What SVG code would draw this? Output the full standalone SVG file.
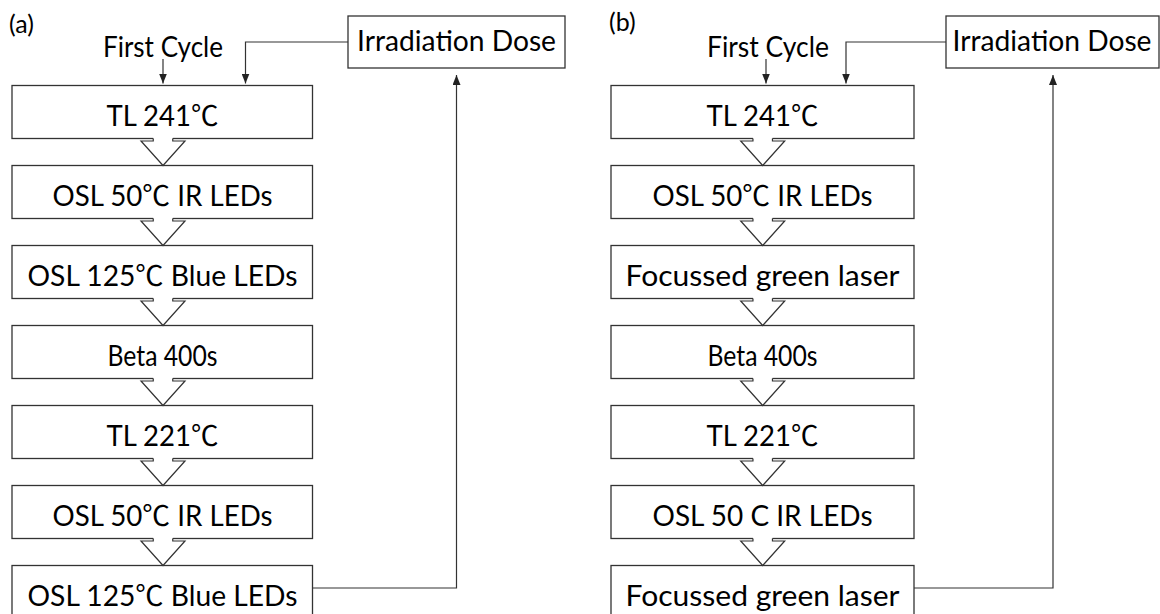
<svg xmlns="http://www.w3.org/2000/svg" xmlns:xlink="http://www.w3.org/1999/xlink" width="1160" height="614" viewBox="0 0 1160 614">
<style>
  .box { fill: #fff; stroke: #333; stroke-width: 1.3; }
  .t { font-family: "Lato", "Noto Sans CJK JP", "DejaVu Sans", sans-serif; font-size: 28px; fill: #000; text-anchor: middle; }
  .lbl { font-family: "Lato", "Noto Sans", "DejaVu Sans", sans-serif; font-size: 25px; fill: #000; }
  .ln { fill: none; stroke: #333; stroke-width: 1.2; }
  .blkf { fill: #fff; stroke: none; }
  .blks { fill: none; stroke: #333; stroke-width: 1.2; stroke-linejoin: miter; }
</style>
<defs>
  <marker id="ah" markerUnits="userSpaceOnUse" markerWidth="10" markerHeight="8" refX="10" refY="4" orient="auto">
    <path d="M0,0 L10,4 L0,8 Z" fill="#222"/>
  </marker>
  <g id="blk">
    <path class="blkf" d="M-9.75,-1.5 V2.5 H-22 L0,27 L22,2.5 H9.75 V-1.5 Z"/>
    <path class="blks" d="M-9.75,0 V2.5 H-22 L0,27 L22,2.5 H9.75 V0"/>
  </g>
</defs>
<rect width="1160" height="614" fill="#fff"/>

<text class="lbl" x="9" y="33">(a)</text>
<text class="lbl" x="609" y="31">(b)</text>

<!-- Panel (a) nodes -->
<g id="a-first"><text class="t" x="163" y="57" textLength="120" lengthAdjust="spacingAndGlyphs">First Cycle</text></g>
<g id="a-dose"><rect class="box" x="348" y="16" width="217" height="52"/><text class="t" x="456.5" y="51" textLength="199" lengthAdjust="spacingAndGlyphs">Irradiation Dose</text></g>
<g id="a1"><rect class="box" x="12" y="85.5" width="300.5" height="53"/><text class="t" x="162.5" y="125.5" textLength="112" lengthAdjust="spacingAndGlyphs">TL 241℃</text></g>
<g id="a2"><rect class="box" x="12" y="165.5" width="300.5" height="53"/><text class="t" x="162.5" y="205.5" textLength="220" lengthAdjust="spacingAndGlyphs">OSL 50℃ IR LEDs</text></g>
<g id="a3"><rect class="box" x="12" y="245.5" width="300.5" height="53"/><text class="t" x="162.5" y="285.5" textLength="270" lengthAdjust="spacingAndGlyphs">OSL 125℃ Blue LEDs</text></g>
<g id="a4"><rect class="box" x="12" y="325.5" width="300.5" height="53"/><text class="t" x="162.5" y="365.5" textLength="110" lengthAdjust="spacingAndGlyphs">Beta 400s</text></g>
<g id="a5"><rect class="box" x="12" y="405.5" width="300.5" height="53"/><text class="t" x="162.5" y="445.5" textLength="112" lengthAdjust="spacingAndGlyphs">TL 221℃</text></g>
<g id="a6"><rect class="box" x="12" y="485.5" width="300.5" height="53"/><text class="t" x="162.5" y="525.5" textLength="220" lengthAdjust="spacingAndGlyphs">OSL 50℃ IR LEDs</text></g>
<g id="a7"><rect class="box" x="12" y="565.5" width="300.5" height="53"/><text class="t" x="162.5" y="605.5" textLength="270" lengthAdjust="spacingAndGlyphs">OSL 125℃ Blue LEDs</text></g>

<!-- Panel (b) nodes -->
<g id="b-first"><text class="t" x="768" y="57" textLength="122" lengthAdjust="spacingAndGlyphs">First Cycle</text></g>
<g id="b-dose"><rect class="box" x="946" y="16" width="213" height="52"/><text class="t" x="1052" y="51" textLength="199" lengthAdjust="spacingAndGlyphs">Irradiation Dose</text></g>
<g id="b1"><rect class="box" x="611" y="85.5" width="303" height="53"/><text class="t" x="762.5" y="125.5" textLength="112" lengthAdjust="spacingAndGlyphs">TL 241℃</text></g>
<g id="b2"><rect class="box" x="611" y="165.5" width="303" height="53"/><text class="t" x="762.5" y="205.5" textLength="220" lengthAdjust="spacingAndGlyphs">OSL 50℃ IR LEDs</text></g>
<g id="b3"><rect class="box" x="611" y="245.5" width="303" height="53"/><text class="t" x="762.5" y="285.5" textLength="274" lengthAdjust="spacingAndGlyphs">Focussed green laser</text></g>
<g id="b4"><rect class="box" x="611" y="325.5" width="303" height="53"/><text class="t" x="762.5" y="365.5" textLength="110" lengthAdjust="spacingAndGlyphs">Beta 400s</text></g>
<g id="b5"><rect class="box" x="611" y="405.5" width="303" height="53"/><text class="t" x="762.5" y="445.5" textLength="112" lengthAdjust="spacingAndGlyphs">TL 221℃</text></g>
<g id="b6"><rect class="box" x="611" y="485.5" width="303" height="53"/><text class="t" x="762.5" y="525.5" textLength="220" lengthAdjust="spacingAndGlyphs">OSL 50 C IR LEDs</text></g>
<g id="b7"><rect class="box" x="611" y="565.5" width="303" height="53"/><text class="t" x="762.5" y="605.5" textLength="274" lengthAdjust="spacingAndGlyphs">Focussed green laser</text></g>

<!-- Connectors -->
<g id="connectors">
  <use xlink:href="#blk" href="#blk" x="163" y="138.5"/>
  <use xlink:href="#blk" href="#blk" x="163" y="218.5"/>
  <use xlink:href="#blk" href="#blk" x="163" y="298.5"/>
  <use xlink:href="#blk" href="#blk" x="163" y="378.5"/>
  <use xlink:href="#blk" href="#blk" x="163" y="458.5"/>
  <use xlink:href="#blk" href="#blk" x="163" y="538.5"/>
  <use xlink:href="#blk" href="#blk" x="762.7" y="138.5"/>
  <use xlink:href="#blk" href="#blk" x="762.7" y="218.5"/>
  <use xlink:href="#blk" href="#blk" x="762.7" y="298.5"/>
  <use xlink:href="#blk" href="#blk" x="762.7" y="378.5"/>
  <use xlink:href="#blk" href="#blk" x="762.7" y="458.5"/>
  <use xlink:href="#blk" href="#blk" x="762.7" y="538.5"/>

  <path class="ln" d="M163,59 V83.5" marker-end="url(#ah)"/>
  <path class="ln" d="M348,42 H245.5 V83.5" marker-end="url(#ah)"/>
  <path class="ln" d="M312.5,588 H456.5 V75" marker-end="url(#ah)"/>

  <path class="ln" d="M766,59 V83.5" marker-end="url(#ah)"/>
  <path class="ln" d="M946,42 H846 V83.5" marker-end="url(#ah)"/>
  <path class="ln" d="M914,588 H1053 V75" marker-end="url(#ah)"/>
</g>
</svg>
